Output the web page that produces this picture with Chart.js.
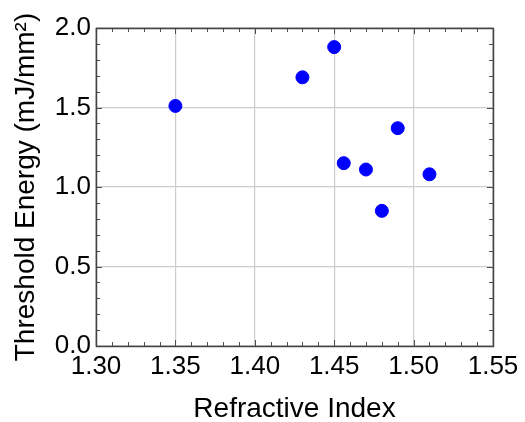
<!DOCTYPE html>
<html>
<head>
<meta charset="utf-8">
<script src="https://cdn.jsdelivr.net/npm/chart.js@4/dist/chart.umd.min.js"></script>
<style>
  html, body { margin: 0; padding: 0; background: #fff; }
  #wrap { width: 525px; height: 422px; }
</style>
</head>
<body>
<div id="wrap"><canvas id="rcChart"></canvas></div>
<script>
// data
const refractiveIndex = [1.35, 1.43, 1.45, 1.456, 1.47, 1.48, 1.49, 1.51];
const thresholdEnergy = [1.51, 1.69, 1.88, 1.15, 1.11, 0.85, 1.37, 1.08];
const xTicks = [1.30, 1.35, 1.40, 1.45, 1.50, 1.55];
const yTicks = [0.0, 0.5, 1.0, 1.5, 2.0];

const FONT = "'Liberation Sans', Arial, sans-serif";

// box frame + small inward ticks on all four sides
const frameTicks = {
  id: "frameTicks",
  afterDraw(chart) {
    const { ctx, chartArea: a, scales: { x, y } } = chart;
    ctx.save();
    ctx.strokeStyle = "#4d4d4d";
    ctx.lineWidth = 1;
    ctx.beginPath();
    const xMin = xTicks[0], xMax = xTicks[xTicks.length - 1];
    for (let i = 0; i <= Math.round((xMax - xMin) / 0.01); i++) {
      const px = Math.round(x.getPixelForValue(xMin + i * 0.01)) + 0.5;
      const len = i % 5 === 0 ? 6 : 4;
      ctx.moveTo(px, a.bottom); ctx.lineTo(px, a.bottom - len);
      ctx.moveTo(px, a.top); ctx.lineTo(px, a.top + len);
    }
    const yMin = yTicks[0], yMax = yTicks[yTicks.length - 1];
    for (let i = 0; i <= Math.round((yMax - yMin) / 0.1); i++) {
      const py = Math.round(y.getPixelForValue(yMin + i * 0.1)) + 0.5;
      const len = i % 5 === 0 ? 6 : 4;
      ctx.moveTo(a.left, py); ctx.lineTo(a.left + len, py);
      ctx.moveTo(a.right, py); ctx.lineTo(a.right - len, py);
    }
    ctx.stroke();
    ctx.lineWidth = 1.5;
    ctx.strokeStyle = "#444";
    ctx.strokeRect(Math.round(a.left) + 0.5, Math.round(a.top) + 0.5,
      Math.round(a.width), Math.round(a.height));
    ctx.restore();
  },
};

const ctx = document.getElementById("rcChart").getContext("2d");
const rcChart = new Chart(ctx, {
  type: "scatter",
  data: {
    datasets: [
      {
        data: refractiveIndex.map((v, i) => ({ x: v, y: thresholdEnergy[i] })),
        backgroundColor: "#0000ff",
        borderColor: "#0000ff",
        pointRadius: 6.5,
        pointHoverRadius: 6.5,
      },
    ],
  },
  options: {
    responsive: true,
    maintainAspectRatio: false,
    animation: false,
    layout: { padding: { top: 28, right: 32, left: 0, bottom: 0 } },
    plugins: {
      legend: { display: false },
      tooltip: { enabled: false },
    },
    scales: {
      x: {
        type: "linear",
        min: xTicks[0],
        max: xTicks[xTicks.length - 1],
        afterBuildTicks: (s) => { s.ticks = xTicks.map((v) => ({ value: v })); },
        afterFit: (s) => { s.height = 76; s.paddingLeft = 0; s.paddingRight = 0; },
        grid: { color: "#cccccc", lineWidth: 1.2, drawTicks: false },
        border: { display: false },
        ticks: {
          padding: 5,
          color: "#000",
          font: { family: FONT, size: 26 },
          callback: (v) => Number(v).toFixed(2),
        },
        title: {
          display: true,
          text: "Refractive Index",
          color: "#000",
          font: { family: FONT, size: 28 },
          padding: { top: 0, bottom: -4 },
        },
      },
      y: {
        type: "linear",
        min: yTicks[0],
        max: yTicks[yTicks.length - 1],
        afterBuildTicks: (s) => { s.ticks = yTicks.map((v) => ({ value: v })); },
        afterFit: (s) => { s.width = 96; s.paddingTop = 0; s.paddingBottom = 0; },
        grid: { color: "#cccccc", lineWidth: 1.2, drawTicks: false },
        border: { display: false },
        ticks: {
          padding: 5,
          color: "#000",
          font: { family: FONT, size: 26 },
          callback: (v) => Number(v).toFixed(1),
        },
        title: {
          display: true,
          text: "Threshold Energy (mJ/mm²)",
          color: "#000",
          font: { family: FONT, size: 28 },
          padding: { top: 9, bottom: 0 },
        },
      },
    },
  },
  plugins: [frameTicks],
});
</script>
</body>
</html>
